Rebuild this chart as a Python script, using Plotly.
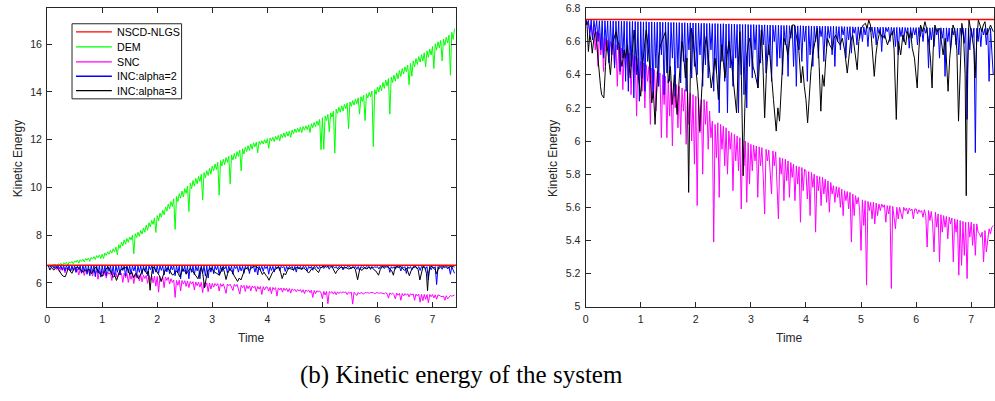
import numpy as np
import plotly.graph_objects as go

# ---------------------------------------------------------------------------
# Sample times
# ---------------------------------------------------------------------------
t_fine = np.round(np.arange(297) * 0.025, 3)   # 0 .. 7.4, step 0.025

# NSCD-NLGS keeps the kinetic energy constant
nscd_t = [0.0, 7.45]
nscd_v = [6.733, 6.733]

# DEM (energy grows over time)
dem_v = [
    6.73, 6.72, 6.74, 6.70, 6.76, 6.74, 6.78, 6.70, 6.80, 6.76, 6.82, 6.72, 6.84, 6.80, 6.86, 6.74, 6.88, 6.82, 6.90, 6.80,
    6.92, 6.86, 6.95, 6.82, 6.97, 6.90, 6.99, 6.88, 7.02, 6.95, 7.04, 6.90, 7.07, 7.00, 7.10, 6.98, 7.14, 7.05, 7.17, 7.02,
    7.20, 7.02, 7.25, 7.15, 7.30, 7.20, 7.36, 7.25, 7.43, 7.30, 7.50, 7.18, 7.60, 7.45, 7.70, 7.55, 7.80, 7.62, 7.86, 7.70,
    7.92, 7.80, 8.00, 7.22, 8.06, 7.90, 8.12, 7.95, 8.20, 8.05, 8.30, 8.12, 8.42, 8.20, 8.52, 8.35, 8.62, 8.45, 8.72, 8.11,
    8.82, 8.60, 8.92, 8.75, 9.05, 8.85, 9.18, 9.00, 9.30, 9.10, 9.40, 9.20, 9.52, 8.24, 9.62, 9.40, 9.74, 9.55, 9.85, 9.60,
    9.95, 9.75, 10.06, 8.99, 10.18, 9.95, 10.29, 10.05, 10.38, 10.15, 10.46, 10.25, 10.55, 9.47, 10.62, 10.40, 10.70, 10.50, 10.80, 10.55,
    10.90, 10.70, 10.98, 10.75, 11.05, 9.67, 11.12, 10.90, 11.18, 10.95, 11.25, 11.05, 11.30, 10.15, 11.36, 11.15, 11.42, 11.20, 11.50, 11.30,
    11.56, 10.69, 11.62, 11.40, 11.68, 11.50, 11.75, 11.55, 11.82, 11.60, 11.87, 11.70, 11.90, 11.45, 11.93, 11.80, 11.96, 11.82, 12.00, 11.85,
    12.04, 11.64, 12.07, 11.95, 12.10, 11.92, 12.14, 12.00, 12.18, 11.95, 12.23, 12.08, 12.28, 12.10, 12.33, 12.15, 12.36, 12.10, 12.40, 12.25,
    12.45, 12.30, 12.48, 12.32, 12.52, 12.30, 12.55, 12.40, 12.58, 12.42, 12.62, 12.30, 12.67, 12.50, 12.72, 12.55, 12.78, 12.60, 12.85, 11.58,
    12.92, 11.60, 13.00, 12.80, 13.06, 12.33, 13.12, 12.95, 13.20, 11.44, 13.28, 13.10, 13.35, 13.15, 13.42, 13.20, 13.48, 13.30, 13.53, 12.46,
    13.58, 13.40, 13.64, 13.45, 13.70, 13.50, 13.75, 13.07, 13.80, 13.60, 13.86, 12.80, 13.92, 13.75, 13.98, 13.80, 14.04, 11.71, 14.10, 13.90,
    14.20, 14.00, 14.28, 14.05, 14.40, 14.15, 14.50, 14.25, 14.56, 13.07, 14.62, 14.40, 14.70, 14.45, 14.80, 14.55, 14.90, 14.65, 14.98, 14.75,
    15.05, 14.85, 15.12, 14.30, 15.20, 14.66, 15.30, 15.05, 15.40, 15.15, 15.48, 15.25, 15.56, 15.30, 15.64, 15.05, 15.72, 15.45, 15.80, 15.55,
    15.90, 14.98, 16.02, 15.75, 16.10, 15.85, 16.16, 15.30, 16.22, 15.95, 16.30, 16.05, 16.38, 14.70, 16.50, 16.20, 16.65,
]

# SNC (energy decays)
snc_v = [
    6.733, 6.72, 6.71, 6.66, 6.70, 6.62, 6.68, 6.55, 6.66, 6.45, 6.65, 6.52, 6.63, 6.42, 6.62, 6.54, 6.61, 6.48, 6.60, 6.56,
    6.59, 6.45, 6.58, 6.33, 6.57, 6.40, 6.56, 6.31, 6.55, 6.44, 6.54, 6.36, 6.53, 6.28, 6.52, 6.42, 6.51, 6.15, 6.50, 6.35,
    6.48, 6.30, 6.47, 6.20, 6.46, 6.36, 6.45, 6.10, 6.44, 6.28, 6.43, 6.18, 6.42, 6.33, 6.41, 6.02, 6.40, 6.22, 6.39, 6.02,
    6.37, 6.15, 6.36, 5.97, 6.35, 6.20, 6.34, 6.08, 6.33, 6.04, 6.32, 6.18, 6.31, 5.98, 6.30, 6.10, 6.29, 6.00, 6.28, 5.86,
    6.27, 5.61, 6.26, 6.05, 6.25, 5.80, 6.25, 6.10, 6.24, 5.95, 6.18, 6.02, 6.12, 5.39, 6.10, 5.90, 6.11, 5.66, 6.10, 5.95,
    6.09, 5.85, 6.08, 5.80, 6.06, 5.95, 6.05, 5.70, 6.04, 5.88, 6.03, 5.82, 6.02, 5.59, 6.01, 5.85, 6.00, 5.63, 5.99, 5.74,
    5.98, 5.82, 5.975, 5.88, 5.97, 5.66, 5.965, 5.85, 5.96, 5.78, 5.56, 5.95, 5.88, 5.945, 5.80, 5.68, 5.94, 5.85, 5.935, 5.75,
    5.53, 5.90, 5.80, 5.895, 5.64, 5.89, 5.76, 5.88, 5.66, 5.87, 5.78, 5.86, 5.64, 5.85, 5.74, 5.845, 5.51, 5.84, 5.70, 5.83,
    5.82, 5.65, 5.815, 5.55, 5.81, 5.72, 5.80, 5.45, 5.79, 5.70, 5.785, 5.61, 5.78, 5.68, 5.77, 5.63, 5.76, 5.57, 5.75, 5.68,
    5.73, 5.63, 5.725, 5.66, 5.72, 5.60, 5.71, 5.55, 5.70, 5.64, 5.695, 5.59, 5.69, 5.39, 5.68, 5.55, 5.67, 5.62, 5.66, 5.58,
    5.34, 5.645, 5.49, 5.64, 5.13, 5.635, 5.58, 5.63, 5.53, 5.63, 5.50, 5.625, 5.55, 5.62, 5.58, 5.62, 5.60, 5.615, 5.51, 5.61,
    5.56, 5.61, 5.11, 5.605, 5.55, 5.47, 5.60, 5.53, 5.60, 5.57, 5.53, 5.60, 5.58, 5.595, 5.56, 5.595, 5.58, 5.59, 5.53, 5.59,
    5.59, 5.56, 5.585, 5.57, 5.58, 5.54, 5.585, 5.55, 5.36, 5.58, 5.52, 5.575, 5.50, 5.33, 5.57, 5.48, 5.56, 5.27, 5.555, 5.45,
    5.55, 5.48, 5.545, 5.41, 5.54, 5.50, 5.535, 5.27, 5.53, 5.45, 5.525, 5.19, 5.52, 5.25, 5.515, 5.31, 5.51, 5.17, 5.51, 5.42,
    5.51, 5.37, 5.50, 5.31, 5.50, 5.45, 5.44, 5.42, 5.45, 5.27, 5.46, 5.33, 5.42, 5.47, 5.44, 5.48, 5.49,
]

# INC with alpha = 2
inc2_v = [
    6.733, 6.70, 6.728, 6.64, 6.73, 6.61, 6.727, 6.66, 6.726, 6.60, 6.725, 6.55, 6.726, 6.50, 6.725, 6.58, 6.724, 6.47, 6.725, 6.52,
    6.724, 6.44, 6.723, 6.55, 6.724, 6.42, 6.722, 6.50, 6.723, 6.36, 6.722, 6.30, 6.721, 6.45, 6.722, 6.26, 6.721, 6.40, 6.720, 6.24,
    6.720, 6.38, 6.719, 6.30, 6.720, 6.48, 6.718, 6.35, 6.719, 6.26, 6.718, 6.44, 6.717, 6.33, 6.718, 6.52, 6.716, 6.28, 6.717, 6.41,
    6.716, 6.36, 6.715, 6.50, 6.716, 6.27, 6.714, 6.44, 6.715, 6.35, 6.713, 6.48, 6.714, 6.30, 6.712, 6.55, 6.713, 6.38, 6.712, 6.45,
    6.711, 6.40, 6.712, 6.52, 6.710, 6.33, 6.711, 6.46, 6.709, 6.38, 6.710, 6.55, 6.708, 6.30, 6.709, 6.42, 6.708, 6.17, 6.707, 6.48,
    6.708, 6.36, 6.706, 6.17, 6.707, 6.44, 6.705, 6.33, 6.706, 6.50, 6.704, 6.17, 6.705, 6.40, 6.703, 6.28, 6.704, 6.20, 6.703, 6.45,
    6.702, 6.38, 6.703, 6.55, 6.701, 6.32, 6.702, 6.47, 6.700, 6.58, 6.701, 6.41, 6.699, 6.52, 6.700, 6.36, 6.699, 6.60, 6.698, 6.45,
    6.699, 6.50, 6.698, 6.40, 6.697, 6.58, 6.698, 6.39, 6.696, 6.62, 6.697, 6.45, 6.696, 6.33, 6.695, 6.55, 6.696, 6.48, 6.695, 6.60,
    6.694, 6.36, 6.695, 6.52, 6.694, 6.45, 6.693, 6.60, 6.694, 6.50, 6.693, 6.63, 6.692, 6.48, 6.693, 6.57, 6.692, 6.62, 6.691, 6.52,
    6.692, 6.45, 6.691, 6.60, 6.690, 6.55, 6.691, 6.64, 6.690, 6.50, 6.689, 6.61, 6.690, 6.53, 6.689, 6.65, 6.688, 6.58, 6.689, 6.62,
    6.688, 6.60, 6.689, 6.64, 6.688, 6.57, 6.687, 6.66, 6.688, 6.62, 6.687, 6.58, 6.688, 6.65, 6.686, 6.54, 6.687, 6.62, 6.686, 6.66,
    6.687, 6.60, 6.686, 6.64, 6.685, 6.57, 6.686, 6.52, 6.685, 6.63, 6.686, 6.60, 6.685, 6.65, 6.684, 6.56, 6.685, 6.62, 6.684, 6.64,
    6.684, 6.58, 6.685, 6.63, 6.684, 6.60, 6.683, 6.65, 6.684, 6.44, 6.683, 6.61, 6.684, 6.57, 6.683, 6.64, 6.682, 6.50, 6.683, 6.62,
    6.682, 6.39, 6.683, 6.60, 6.682, 6.55, 6.681, 6.64, 6.682, 6.58, 6.681, 6.52, 6.682, 6.63, 6.681, 6.59, 6.680, 6.13, 6.681, 6.55,
    6.680, 6.62, 6.681, 5.93, 6.680, 6.60, 6.681, 6.57, 6.680, 6.64, 6.679, 6.58, 6.680, 6.36, 6.679, 6.55, 6.40,
]

# INC with alpha = 3
inc3_t = [
    0.000, 0.025, 0.050, 0.075, 0.100, 0.120, 0.150, 0.180, 0.210, 0.240, 0.270, 0.290, 0.330, 0.360, 0.380, 0.410, 0.450, 0.480,
    0.500, 0.550, 0.600, 0.630, 0.660, 0.700, 0.720, 0.760, 0.810, 0.850, 0.880, 0.920, 0.960,
    1.000, 1.040, 1.080, 1.100, 1.140, 1.170, 1.200, 1.230, 1.260, 1.290, 1.320, 1.360, 1.400, 1.450, 1.480,
    1.500, 1.540, 1.570, 1.610, 1.660, 1.700, 1.750, 1.780, 1.810, 1.840, 1.870, 1.900, 1.920, 1.960,
    2.000, 2.040, 2.070, 2.100, 2.130, 2.160, 2.190, 2.230, 2.280, 2.320, 2.350, 2.380, 2.410, 2.440, 2.470,
    2.500, 2.530, 2.570, 2.600, 2.640, 2.680, 2.710, 2.740, 2.770, 2.800, 2.830, 2.860, 2.890, 2.920, 2.950, 2.980,
    3.010, 3.040, 3.080, 3.130, 3.160, 3.190, 3.220, 3.250, 3.280, 3.320, 3.350, 3.370, 3.410, 3.460, 3.490,
    3.520, 3.560, 3.600, 3.640, 3.670, 3.710, 3.750, 3.790, 3.820, 3.870, 3.910, 3.940, 3.970,
    4.000, 4.030, 4.060, 4.090, 4.120, 4.150, 4.180, 4.210, 4.240, 4.270, 4.300, 4.330, 4.360, 4.390, 4.430, 4.480,
    4.510, 4.540, 4.580, 4.620, 4.660, 4.700, 4.750, 4.780, 4.810, 4.850, 4.890, 4.930, 4.960, 4.990,
    5.040, 5.080, 5.110, 5.140, 5.170, 5.210, 5.240, 5.270, 5.300, 5.340, 5.390, 5.430, 5.480,
    5.520, 5.570, 5.600, 5.640, 5.680, 5.720, 5.760, 5.810, 5.840, 5.870, 5.900, 5.930, 5.970,
    6.020, 6.050, 6.080, 6.120, 6.160, 6.190, 6.220, 6.260, 6.290, 6.310, 6.340, 6.380, 6.430, 6.460, 6.490,
    6.530, 6.580, 6.610, 6.640, 6.670, 6.700, 6.740, 6.770, 6.800, 6.830, 6.860, 6.890, 6.910, 6.930, 6.960, 6.990,
    7.020, 7.050, 7.070, 7.100, 7.130, 7.160, 7.190, 7.220, 7.250, 7.280, 7.310, 7.350, 7.380, 7.400,
]
inc3_v = [
    6.733, 6.70, 6.54, 6.64, 6.60, 6.53, 6.62, 6.66, 6.55, 6.41, 6.33, 6.28, 6.26, 6.45, 6.60, 6.52, 6.40, 6.55,
    6.60, 6.66, 6.58, 6.50, 6.45, 6.55, 6.50, 6.58, 6.38, 6.55, 6.67, 6.50, 6.40,
    6.27, 6.48, 6.62, 6.67, 6.55, 6.42, 6.23, 6.30, 6.10, 6.30, 6.50, 6.58, 6.62, 6.66, 6.52,
    6.35, 6.45, 6.22, 6.40, 6.16, 6.38, 6.60, 6.52, 6.38, 6.50, 5.69, 6.40, 6.68, 6.58,
    6.45, 6.30, 6.06, 6.28, 6.45, 6.56, 6.63, 6.50, 6.32, 6.42, 6.50, 6.40, 6.25, 6.42, 6.58,
    6.48, 6.38, 6.52, 6.60, 6.50, 6.38, 6.30, 6.17, 6.45, 6.66, 6.35, 5.79, 6.20, 6.50, 6.58, 6.62,
    6.55, 6.45, 6.40, 6.32, 6.50, 6.67, 6.45, 6.14, 6.40, 6.58, 6.50, 6.40, 6.25, 6.06, 6.20,
    6.12, 6.40, 6.62, 6.58, 6.52, 6.62, 6.70, 6.70, 6.64, 6.55, 6.35, 6.45, 6.33,
    6.25, 6.11, 6.30, 6.42, 6.52, 6.57, 6.64, 6.68, 6.45, 6.18, 6.40, 6.33, 6.50, 6.62, 6.58, 6.55,
    6.62, 6.64, 6.60, 6.58, 6.62, 6.55, 6.41, 6.52, 6.60, 6.64, 6.55, 6.43, 6.60, 6.67,
    6.70, 6.71, 6.68, 6.73, 6.70, 6.55, 6.39, 6.52, 6.60, 6.66, 6.62, 6.64, 6.58,
    6.62, 6.66, 6.55, 6.13, 6.60, 6.52, 6.64, 6.58, 6.66, 6.62, 6.66, 6.56, 6.50,
    6.32, 6.55, 6.70, 6.66, 6.72, 6.68, 6.62, 6.50, 6.32, 6.55, 6.70, 6.66, 6.68, 6.60, 6.52,
    6.62, 6.30, 6.50, 6.62, 6.70, 6.67, 6.55, 6.12, 6.50, 6.71, 6.64, 6.40, 5.67, 6.40, 6.73, 6.68,
    6.62, 6.55, 6.38, 6.60, 6.73, 6.70, 6.66, 6.70, 6.72, 6.64, 6.66, 6.70, 6.68, 6.66,
]

# name, x, y, colour, line width  (drawing order; red reference line on top)
series = [
    ("DEM", t_fine, dem_v, "#00ff00", 1),
    ("SNC", t_fine, snc_v, "#ff00ff", 1),
    ("INC:alpha=2", t_fine, inc2_v, "#0000ff", 1),
    ("INC:alpha=3", inc3_t, inc3_v, "#000000", 1),
    ("NSCD-NLGS", nscd_t, nscd_v, "#ff0000", 1.5),
]
legend_order = ["NSCD-NLGS", "DEM", "SNC", "INC:alpha=2", "INC:alpha=3"]
legend_colors = {s[0]: s[3] for s in series}

x_ticks = [0, 1, 2, 3, 4, 5, 6, 7]
left_y_ticks = [6, 8, 10, 12, 14, 16]
right_y_ticks = [5.0, 5.2, 5.4, 5.6, 5.8, 6.0, 6.2, 6.4, 6.6, 6.8]
right_y_labels = ["5", "5.2", "5.4", "5.6", "5.8", "6", "6.2", "6.4", "6.6", "6.8"]

fig = go.Figure()

for name, xs, ys, col, lw in series:
    # full view
    fig.add_trace(go.Scatter(
        x=list(xs), y=ys, mode="lines", name=name,
        line=dict(color=col, width=lw), xaxis="x", yaxis="y",
    ))
for name, xs, ys, col, lw in series:
    if name == "DEM":
        continue
    # close-up view around the initial energy
    fig.add_trace(go.Scatter(
        x=list(xs), y=ys, mode="lines", name=name,
        line=dict(color=col, width=lw), xaxis="x2", yaxis="y2",
    ))

W, H = 995, 401
SANS = "Liberation Sans, Arial, sans-serif"
tick_font = dict(family=SANS, size=10.6, color="#262626")
axis_common = dict(
    showline=True, linecolor="#262626", linewidth=1, mirror="ticks",
    ticks="inside", ticklen=5, tickcolor="#262626", tickwidth=1,
    showgrid=False, zeroline=False, tickfont=tick_font,
    ticklabeloverflow="allow",
)
y_dom = [1 - 310 / H, 1 - 2.5 / H]

fig.update_layout(
    width=W, height=H,
    margin=dict(l=0, r=0, t=0, b=0),
    paper_bgcolor="white", plot_bgcolor="white",
    showlegend=False,
    xaxis=dict(domain=[44.3 / W, 455 / W], range=[0, 7.43], tickvals=x_ticks,
               anchor="y", ticklabelstandoff=3, **axis_common),
    yaxis=dict(domain=y_dom, range=[5, 17.5], tickvals=left_y_ticks,
               anchor="x", ticklabelstandoff=2, **axis_common),
    xaxis2=dict(domain=[585 / W, 1.0], range=[0, 7.414], tickvals=x_ticks,
                anchor="y2", ticklabelstandoff=3, **axis_common),
    yaxis2=dict(domain=y_dom, range=[5, 6.8001], tickvals=right_y_ticks,
                ticktext=right_y_labels, anchor="x2", ticklabelstandoff=2, **axis_common),
)


def px(x):
    return x / W


def py(y):
    return 1 - y / H


# Legend box in the upper-left corner of the full view
fig.add_shape(type="rect", xref="paper", yref="paper",
              x0=px(69.3), x1=px(179.3), y0=py(95.7), y1=py(18.3),
              line=dict(color="#262626", width=1), fillcolor="white", layer="above")
row_y = [26.7, 42.2, 57.5, 72.4, 87.3]
for name, ry in zip(legend_order, row_y):
    fig.add_shape(type="line", xref="paper", yref="paper",
                  x0=px(73.3), x1=px(109.3), y0=py(ry), y1=py(ry),
                  line=dict(color=legend_colors[name], width=1.3), layer="above")
    fig.add_annotation(text=name, x=px(112.3), y=py(ry), xref="paper", yref="paper",
                       showarrow=False, xanchor="left", yanchor="middle",
                       font=dict(family=SANS, size=10.7, color="black"))

label_font = dict(family=SANS, size=12, color="#262626")
for cx in (250, 790):
    fig.add_annotation(text="Time", x=px(cx), y=py(342), xref="paper", yref="paper",
                       showarrow=False, font=label_font, xanchor="center", yanchor="middle")
for cx in (15, 553):
    fig.add_annotation(text="Kinetic Energy", x=px(cx), y=py(157), xref="paper", yref="paper",
                       showarrow=False, font=label_font, textangle=-90,
                       xanchor="center", yanchor="middle")
fig.add_annotation(text="(b) Kinetic energy of the system", x=px(460), y=py(380),
                   xref="paper", yref="paper", showarrow=False,
                   font=dict(family="Liberation Serif, serif", size=25, color="black"),
                   xanchor="center", yanchor="middle")

fig.write_html("out.html")
